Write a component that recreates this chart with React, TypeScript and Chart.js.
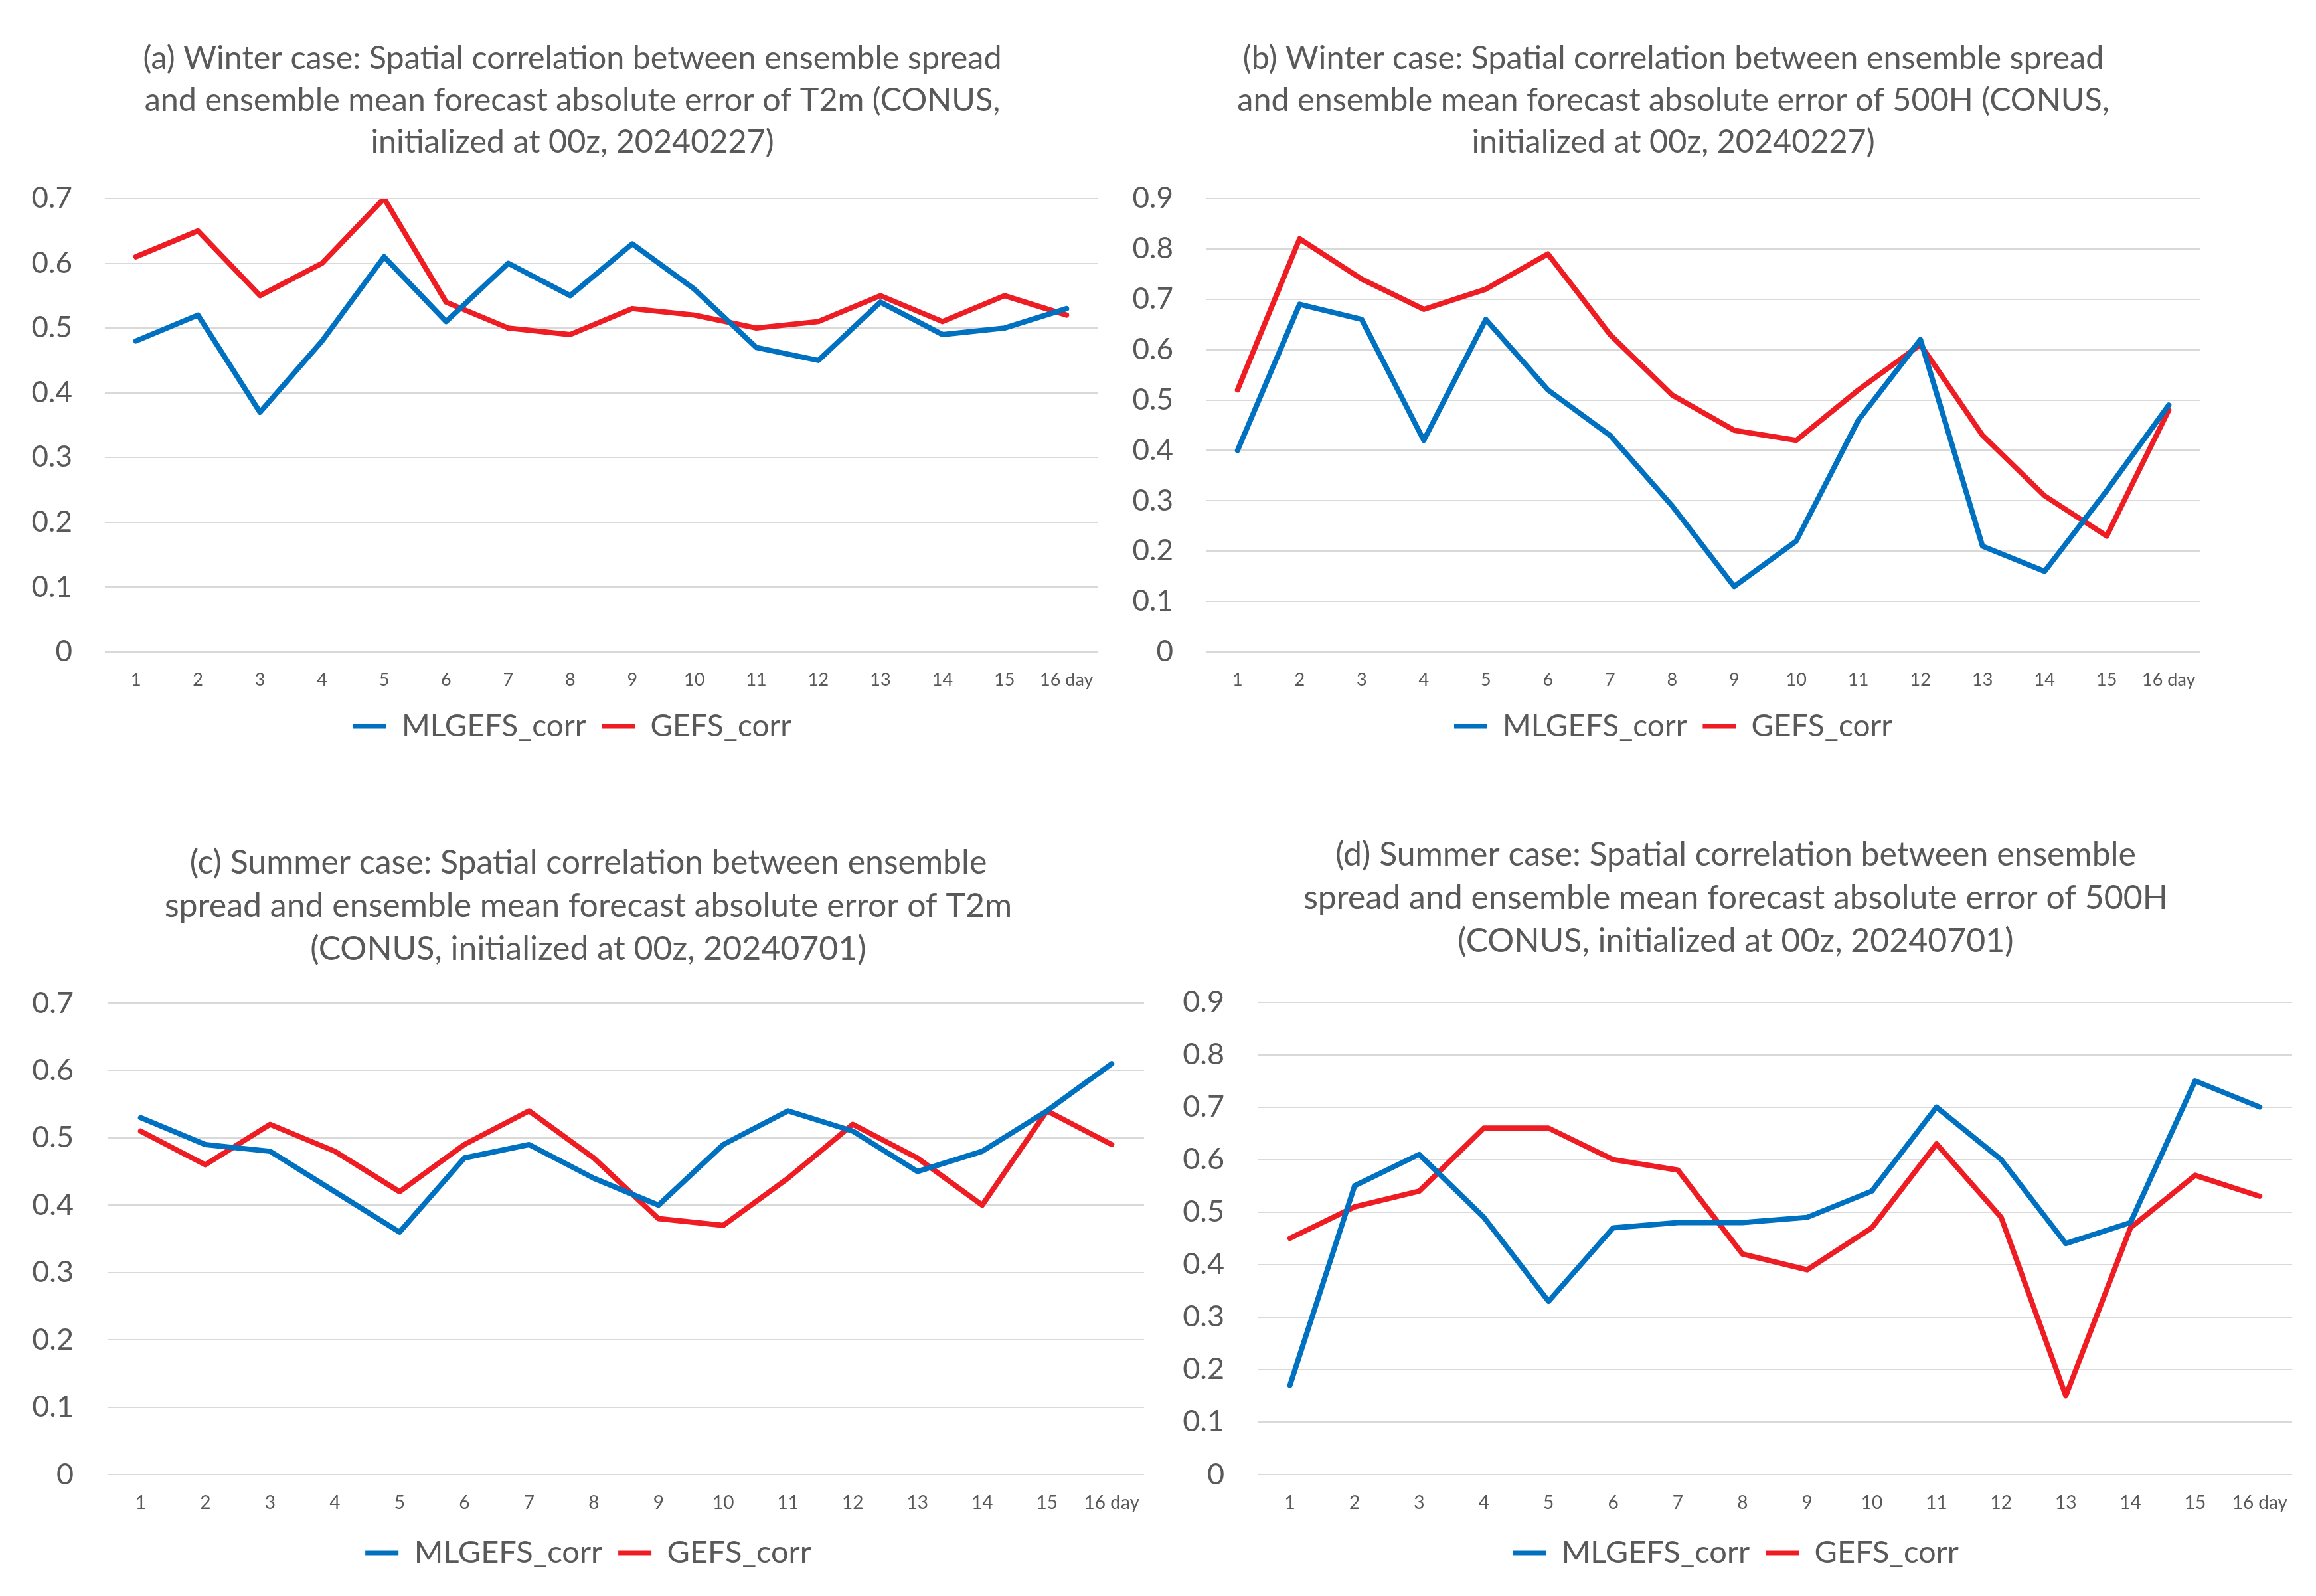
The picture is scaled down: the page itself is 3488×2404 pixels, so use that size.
import React, { useEffect, useRef } from 'react';
import { Chart, registerables } from 'chart.js';

Chart.register(...registerables);

// ---------- data ----------
const days = ['1', '2', '3', '4', '5', '6', '7', '8', '9', '10', '11', '12', '13', '14', '15', '16 day'];

const winterT2mMLGEFS = [0.48, 0.52, 0.37, 0.48, 0.61, 0.51, 0.60, 0.55, 0.63, 0.56, 0.47, 0.45, 0.54, 0.49, 0.50, 0.53];
const winterT2mGEFS = [0.61, 0.65, 0.55, 0.60, 0.70, 0.54, 0.50, 0.49, 0.53, 0.52, 0.50, 0.51, 0.55, 0.51, 0.55, 0.52];

const winter500MLGEFS = [0.40, 0.69, 0.66, 0.42, 0.66, 0.52, 0.43, 0.29, 0.13, 0.22, 0.46, 0.62, 0.21, 0.16, 0.32, 0.49];
const winter500GEFS = [0.52, 0.82, 0.74, 0.68, 0.72, 0.79, 0.63, 0.51, 0.44, 0.42, 0.52, 0.61, 0.43, 0.31, 0.23, 0.48];

const summerT2mMLGEFS = [0.53, 0.49, 0.48, 0.42, 0.36, 0.47, 0.49, 0.44, 0.40, 0.49, 0.54, 0.51, 0.45, 0.48, 0.54, 0.61];
const summerT2mGEFS = [0.51, 0.46, 0.52, 0.48, 0.42, 0.49, 0.54, 0.47, 0.38, 0.37, 0.44, 0.52, 0.47, 0.40, 0.54, 0.49];

const summer500MLGEFS = [0.17, 0.55, 0.61, 0.49, 0.33, 0.47, 0.48, 0.48, 0.49, 0.54, 0.70, 0.60, 0.44, 0.48, 0.75, 0.70];
const summer500GEFS = [0.45, 0.51, 0.54, 0.66, 0.66, 0.60, 0.58, 0.42, 0.39, 0.47, 0.63, 0.49, 0.15, 0.47, 0.57, 0.53];

const seriesNames = ['MLGEFS_corr', 'GEFS_corr'];

const titleA = [
  '(a) Winter case: Spatial correlation between ensemble spread',
  'and ensemble mean forecast absolute error of T2m (CONUS,',
  'initialized at 00z, 20240227)',
];
const titleB = [
  '(b) Winter case: Spatial correlation between ensemble spread',
  'and ensemble mean forecast absolute error of 500H (CONUS,',
  'initialized at 00z, 20240227)',
];
const titleC = [
  '(c) Summer case: Spatial correlation between ensemble',
  'spread and ensemble mean forecast absolute error of T2m',
  '(CONUS, initialized at 00z, 20240701)',
];
const titleD = [
  '(d) Summer case: Spatial correlation between ensemble',
  'spread and ensemble mean forecast absolute error of 500H',
  '(CONUS, initialized at 00z, 20240701)',
];

// ---------- styles ----------
const BLUE = '#0070C0';
const RED = '#EE1D23';
const TEXT = '#595959';
const GRID = '#D9D9D9';
const FONT = 'Lato';

type Spec = {
  left: number; top: number; width: number; height: number;
  title: string[]; ml: number[]; gefs: number[]; yMax: number;
  padL: number; padR: number; padB: number;
  titleSize: number; titleLH: number; titleTop: number; titleBottom: number;
  yWidth: number; yPad: number; yFont: number; rightW: number;
  xHeight: number; xPad: number; xFont: number;
  legendFont: number;
};

const panels: Spec[] = [
  {
    left: 0, top: 0, width: 1744, height: 1200,
    title: titleA, ml: winterT2mMLGEFS, gefs: winterT2mGEFS, yMax: 0.7,
    padL: 20, padR: 40, padB: 73,
    titleSize: 48.5, titleLH: 63, titleTop: 56.5, titleBottom: 53.5,
    yWidth: 138, yPad: 49, yFont: 44, rightW: 51,
    xHeight: 65, xPad: 18, xFont: 27,
    legendFont: 46,
  },
  {
    left: 1700, top: 0, width: 1744, height: 1200,
    title: titleB, ml: winter500MLGEFS, gefs: winter500GEFS, yMax: 0.9,
    padL: 0, padR: 104, padB: 73,
    titleSize: 48.5, titleLH: 63, titleTop: 56.5, titleBottom: 53.5,
    yWidth: 117, yPad: 50, yFont: 44, rightW: 27,
    xHeight: 65, xPad: 18, xFont: 27,
    legendFont: 46,
  },
  {
    left: 0, top: 1200, width: 1760, height: 1204,
    title: titleC, ml: summerT2mMLGEFS, gefs: summerT2mGEFS, yMax: 0.7,
    padL: 20, padR: 8, padB: 31.5,
    titleSize: 50, titleLH: 65, titleTop: 67.5, titleBottom: 48.5,
    yWidth: 143, yPad: 52, yFont: 45, rightW: 29,
    xHeight: 70.5, xPad: 18, xFont: 28,
    legendFont: 47,
  },
  {
    left: 1700, top: 1200, width: 1788, height: 1204,
    title: titleD, ml: summer500MLGEFS, gefs: summer500GEFS, yMax: 0.9,
    padL: 40, padR: 0, padB: 31.5,
    titleSize: 50, titleLH: 65, titleTop: 55.5, titleBottom: 59,
    yWidth: 154, yPad: 50, yFont: 45, rightW: 36,
    xHeight: 70.5, xPad: 18, xFont: 28,
    legendFont: 47,
  },
];

function Panel({ s }: { s: Spec }) {
  const ref = useRef<HTMLCanvasElement | null>(null);

  useEffect(() => {
    if (!ref.current) return;
    const lineStyle = {
      borderWidth: 8,
      pointRadius: 0,
      pointHoverRadius: 0,
      tension: 0,
      borderJoinStyle: 'round' as const,
      borderCapStyle: 'round' as const,
    };
    const chart = new Chart(ref.current, {
      type: 'line',
      data: {
        labels: days,
        datasets: [
          { label: seriesNames[0], data: s.ml, borderColor: BLUE, backgroundColor: BLUE, yAxisID: 'y', ...lineStyle },
          { label: seriesNames[1], data: s.gefs, borderColor: RED, backgroundColor: RED, yAxisID: 'y', ...lineStyle },
        ],
      },
      options: {
        responsive: false,
        animation: false,
        devicePixelRatio: 1,
        layout: { padding: { left: s.padL, right: s.padR, top: 0, bottom: s.padB } },
        plugins: {
          title: {
            display: true,
            text: s.title,
            color: TEXT,
            font: { family: FONT, size: s.titleSize, weight: 'normal', lineHeight: s.titleLH / s.titleSize },
            padding: { top: s.titleTop, bottom: s.titleBottom },
          },
          legend: {
            display: true,
            position: 'bottom',
            labels: {
              color: TEXT,
              font: { family: FONT, size: s.legendFont },
              boxWidth: 50,
              boxHeight: 7,
              padding: 24,
              generateLabels: (c: any) =>
                Chart.defaults.plugins.legend.labels.generateLabels(c).map((l: any) => ({
                  ...l,
                  lineWidth: 0,
                  fillStyle: l.strokeStyle,
                })),
            },
          },
          tooltip: { enabled: false },
        },
        scales: {
          x: {
            type: 'category',
            offset: true,
            grid: { display: false },
            border: { display: false },
            ticks: {
              color: TEXT,
              font: { family: FONT, size: s.xFont },
              padding: s.xPad,
              autoSkip: false,
              maxRotation: 0,
              minRotation: 0,
            },
            afterFit: (sc: any) => { sc.height = s.xHeight; },
          },
          y: {
            position: 'left',
            min: 0,
            max: s.yMax,
            grid: { color: GRID, lineWidth: 2, drawTicks: false },
            border: { display: false },
            ticks: {
              stepSize: 0.1,
              color: TEXT,
              font: { family: FONT, size: s.yFont },
              padding: s.yPad,
              callback: (v: any) => (Math.abs(Number(v)) < 1e-9 ? '0' : Number(v).toFixed(1)),
            },
            afterFit: (sc: any) => { sc.width = s.yWidth; },
          },
          yRight: {
            type: 'linear',
            position: 'right',
            display: true,
            min: 0,
            max: s.yMax,
            grid: { display: false, drawTicks: false },
            border: { display: false },
            ticks: { display: false },
            afterFit: (sc: any) => { sc.width = s.rightW; },
          },
        },
      },
    });
    return () => chart.destroy();
  }, [s]);

  return (
    <canvas
      ref={ref}
      width={s.width}
      height={s.height}
      style={{ position: 'absolute', left: s.left, top: s.top, width: s.width, height: s.height }}
    />
  );
}

export default function App() {
  return (
    <div
      style={{
        position: 'absolute',
        left: 0,
        top: 0,
        width: 3488,
        height: 2404,
        overflow: 'hidden',
        background: '#ffffff',
      }}
    >
      {panels.map((p, i) => (
        <Panel key={i} s={p} />
      ))}
    </div>
  );
}
